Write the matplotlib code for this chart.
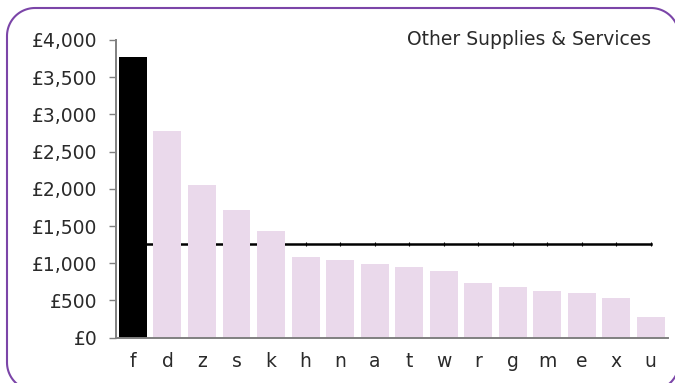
import numpy as np
import matplotlib
matplotlib.use("Agg")
import matplotlib.pyplot as plt
from matplotlib.patches import Polygon
from matplotlib.ticker import FuncFormatter

# spend per unit, sorted high to low; "f" is the highlighted unit
units = ["f", "d", "z", "s", "k", "h", "n", "a", "t", "w", "r", "g", "m", "e", "x", "u"]
spend = [3773, 2778, 2056, 1716, 1434, 1085, 1044, 991, 950, 896, 735, 681, 628, 601, 534, 278]
highlight = "f"
title = "Other Supplies & Services"

avg = sum(spend) / len(spend)

W, H = 675, 383
fig = plt.figure(figsize=(W / 100, H / 100), dpi=100)
ax = fig.add_axes([0.1714, 0.1183, 0.8182, 0.7773])

x = list(range(len(units)))
colors = ["#000000" if u == highlight else "#EAD9EB" for u in units]

# average line sits behind the bars
ax.plot(x, [avg] * len(x), color="black", linewidth=1.8, marker="|",
        markersize=3, markeredgewidth=0.8, zorder=1)
ax.bar(x, spend, width=0.81, color=colors, zorder=2)

ax.set_xlim(-0.5, len(units) - 0.5)
ax.set_ylim(0, 4000)
ax.set_yticks(range(0, 4001, 500))
ax.yaxis.set_major_formatter(FuncFormatter(lambda v, _: f"£{int(v):,}"))
ax.set_xticks(x)
ax.set_xticklabels(units)

for side in ("top", "right"):
    ax.spines[side].set_visible(False)
for side in ("left", "bottom"):
    ax.spines[side].set_color("#808080")
    ax.spines[side].set_linewidth(1.4)

ax.tick_params(axis="y", length=5, width=1, color="#808080", pad=8,
               labelsize=13.5, labelcolor="#2a2a2a")
ax.tick_params(axis="x", length=0, pad=10, labelsize=13.5, labelcolor="#2a2a2a")

ax.text(0.97, 1.0, title, transform=ax.transAxes, ha="right", va="center",
        fontsize=13.5, color="#2a2a2a")


def rounded_rect(x0, y0, x1, y1, r, n=24):
    # outline of a rounded rectangle in figure fractions, built from pixel values
    pts = []
    corners = [(x1 - r, y1 - r, 0), (x0 + r, y1 - r, 90),
               (x0 + r, y0 + r, 180), (x1 - r, y0 + r, 270)]
    for cx, cy, start in corners:
        t = np.radians(np.linspace(start, start + 90, n))
        pts += list(zip(cx + r * np.cos(t), cy + r * np.sin(t)))
    pts = np.array(pts)
    return pts / [W, H]


# purple frame around the whole chart; right and bottom edges run off the canvas
frame = Polygon(rounded_rect(7, -7.5, 679, 375, 28), closed=True, fill=False,
                edgecolor="#7B45A8", linewidth=1.5, transform=fig.transFigure,
                clip_on=False)
fig.add_artist(frame)

fig.savefig("out.png", dpi=100)
